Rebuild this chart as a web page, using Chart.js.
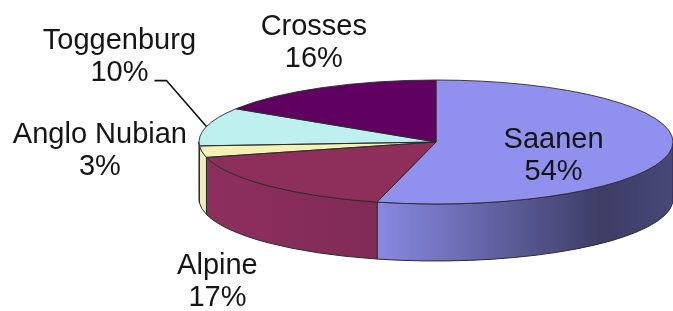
<!DOCTYPE html>
<html>
<head>
<meta charset="utf-8">
<script src="https://cdn.jsdelivr.net/npm/chart.js@4/dist/chart.umd.min.js"></script>
<style>
  html, body { margin: 0; padding: 0; background: #fff; }
  #goats { display: block; }
</style>
</head>
<body>
<canvas id="goats" width="673" height="311"></canvas>
<script>
// data
const breeds = ['Saanen', 'Alpine', 'Anglo Nubian', 'Toggenburg', 'Crosses'];
const shares = [54, 17, 3, 10, 16];

// colours (Excel 2003 pie palette)
const topColors = ['#9090EE', '#8E2E5A', '#F5F0B4', '#BEF0F0', '#600060'];
const sideBase = [[153, 153, 255], [153, 51, 102], [255, 255, 204], [204, 255, 255], [102, 0, 102]];

// where each label sits, relative to the rim point at the slice's middle
// inside = fraction of the radius for labels drawn on the slice
const labelPlace = [
  { inside: 0.5, dx: 0, dy: 8 },
  { dx: -51, dy: 94 },
  { dx: -102, dy: -3 },
  { dx: -87, dy: -72, leader: true },
  { dx: -8, dy: -47 }
];

// the squashed pie on screen
const P = { cx: 436, cy: 142, rx: 237, ry: 62, depth: 57 };
const edge = '#2b2b2b';
const FONT = '29px "Liberation Sans", Arial, sans-serif';

// light across the wall, left to right
const shadeStops = [[0, 0.93], [0.37, 0.84], [0.385, 0.88], [0.85, 0.4], [1, 0.47]];

function shade(rgb, f) {
  return 'rgb(' + rgb.map(v => Math.round(v * f)).join(',') + ')';
}

function rim(t, dy) {
  return { x: P.cx + P.rx * Math.cos(t), y: P.cy + (dy || 0) + P.ry * Math.sin(t) };
}

function drawWall(ctx, a1, a2, rgb) {
  const grad = ctx.createLinearGradient(P.cx - P.rx, 0, P.cx + P.rx, 0);
  shadeStops.forEach(s => grad.addColorStop(s[0], shade(rgb, s[1])));
  const b = rim(a2, P.depth);
  ctx.beginPath();
  ctx.ellipse(P.cx, P.cy, P.rx, P.ry, 0, a1, a2);
  ctx.lineTo(b.x, b.y);
  ctx.ellipse(P.cx, P.cy + P.depth, P.rx, P.ry, 0, a2, a1, true);
  ctx.closePath();
  ctx.fillStyle = grad;
  ctx.fill();
  ctx.strokeStyle = edge;
  ctx.lineWidth = 1;
  ctx.stroke();
}

const pie3d = {
  id: 'pie3d',
  beforeDatasetsDraw(chart) {
    const ctx = chart.ctx;
    const arcs = chart.getDatasetMeta(0).data;
    // front wall: only the part of each slice between 0 and PI shows
    arcs.forEach((arc, i) => {
      const a1 = Math.max(arc.startAngle, 0);
      const a2 = Math.min(arc.endAngle, Math.PI);
      if (a2 > a1) drawWall(ctx, a1, a2, sideBase[i]);
    });
    // squash the library's round pie onto the top face
    const a0 = arcs[0];
    ctx.save();
    ctx.translate(P.cx, P.cy);
    ctx.scale(P.rx / a0.outerRadius, P.ry / a0.outerRadius);
    ctx.translate(-a0.x, -a0.y);
  },
  afterDatasetsDraw(chart) {
    const ctx = chart.ctx;
    ctx.restore();
    const arcs = chart.getDatasetMeta(0).data;
    const total = shares.reduce((a, b) => a + b, 0);

    // slice outlines on the top face
    ctx.strokeStyle = edge;
    ctx.lineWidth = 0.9;
    arcs.forEach(arc => {
      const s = rim(arc.startAngle);
      ctx.beginPath();
      ctx.moveTo(P.cx, P.cy);
      ctx.lineTo(s.x, s.y);
      ctx.ellipse(P.cx, P.cy, P.rx, P.ry, 0, arc.startAngle, arc.endAngle);
      ctx.closePath();
      ctx.stroke();
    });

    // labels
    ctx.font = FONT;
    ctx.fillStyle = '#151515';
    ctx.textAlign = 'center';
    ctx.textBaseline = 'alphabetic';
    arcs.forEach((arc, i) => {
      const mid = (arc.startAngle + arc.endAngle) / 2;
      const pl = labelPlace[i];
      const e = rim(mid);
      let x, y;
      if (pl.inside) {
        x = P.cx + (e.x - P.cx) * pl.inside + pl.dx;
        y = P.cy + (e.y - P.cy) * pl.inside + pl.dy;
      } else {
        x = e.x + pl.dx;
        y = e.y + pl.dy;
      }
      const pct = Math.round(shares[i] / total * 100) + '%';
      ctx.fillText(breeds[i], x, y - 6);
      ctx.fillText(pct, x, y + 26);
      if (pl.leader) {
        const w = ctx.measureText(pct).width;
        const lx = x + w / 2 + 6, ly = y + 26;
        ctx.beginPath();
        ctx.moveTo(lx, ly);
        ctx.lineTo(lx + 12, ly);
        ctx.lineTo(e.x, e.y);
        ctx.strokeStyle = '#111';
        ctx.lineWidth = 1.6;
        ctx.stroke();
      }
    });
  }
};

new Chart(document.getElementById('goats'), {
  type: 'pie',
  data: {
    labels: breeds,
    datasets: [{
      data: shares,
      backgroundColor: topColors,
      borderWidth: 0,
      hoverOffset: 0
    }]
  },
  options: {
    responsive: false,
    animation: false,
    devicePixelRatio: 1,
    events: [],
    layout: { padding: 0 },
    plugins: {
      legend: { display: false },
      tooltip: { enabled: false }
    }
  },
  plugins: [pie3d]
});
</script>
</body>
</html>
